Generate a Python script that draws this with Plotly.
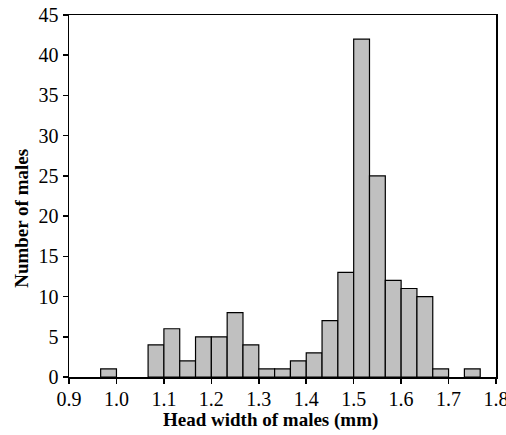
import plotly.graph_objects as go

bin_start = 0.9667
bin_width = 1 / 30
counts = [1, 0, 0, 4, 6, 2, 5, 5, 8, 4, 1, 1, 2, 3, 7, 13, 42, 25, 12, 11, 10, 1, 0, 1]
x_ticks = [0.9, 1.0, 1.1, 1.2, 1.3, 1.4, 1.5, 1.6, 1.7, 1.8]
x_tick_labels = ["0.9", "1.0", "1.1", "1.2", "1.3", "1.4", "1.5", "1.6", "1.7", "1.8"]
x_title = "Head width of males (mm)"
y_title = "Number of males"

xs, ys = [], []
for i, c in enumerate(counts):
    if c > 0:
        xs.append(bin_start + (i + 0.5) * bin_width)
        ys.append(c)

fig = go.Figure(go.Bar(
    x=xs, y=ys, width=bin_width,
    marker=dict(color="#C0C0C0", line=dict(color="black", width=1.2)),
    hoverinfo="skip",
))

font_family = "Liberation Serif"
fig.update_layout(
    width=506, height=435,
    margin=dict(l=69, r=10, t=15, b=58, autoexpand=False),
    paper_bgcolor="white", plot_bgcolor="white",
    showlegend=False,
    font=dict(family=font_family, color="black", size=20),
    bargap=0,
    annotations=[
        dict(text="<b>" + x_title + "</b>", xref="paper", yref="paper",
             x=0.471, y=-0.119, xanchor="center", yanchor="middle",
             showarrow=False, font=dict(size=19)),
        dict(text="<b>" + y_title + "</b>", xref="paper", yref="paper",
             x=-0.11, y=0.437, xanchor="center", yanchor="middle",
             textangle=-90, showarrow=False, font=dict(size=19)),
    ],
)
fig.update_xaxes(
    range=[0.9, 1.8], tickvals=x_ticks, ticktext=x_tick_labels,
    showline=True, linecolor="black", linewidth=1.5, mirror=True,
    ticks="outside", ticklen=5, tickcolor="black", tickwidth=1.5,
    showgrid=False, zeroline=False, automargin=False,
    ticklabeloverflow="allow", ticklabelstandoff=-2, tickfont=dict(size=20),
)
fig.update_yaxes(
    range=[0, 45], dtick=5,
    showline=True, linecolor="black", linewidth=1.5, mirror=True,
    ticks="outside", ticklen=5, tickcolor="black", tickwidth=1.5,
    showgrid=False, zeroline=False, automargin=False,
    ticklabeloverflow="allow", tickfont=dict(size=20),
)
fig.write_html(
    "out.html",
    config={"displayModeBar": False, "staticPlot": True},
    post_script="document.body.style.margin='0';document.body.style.overflow='hidden';",
)
